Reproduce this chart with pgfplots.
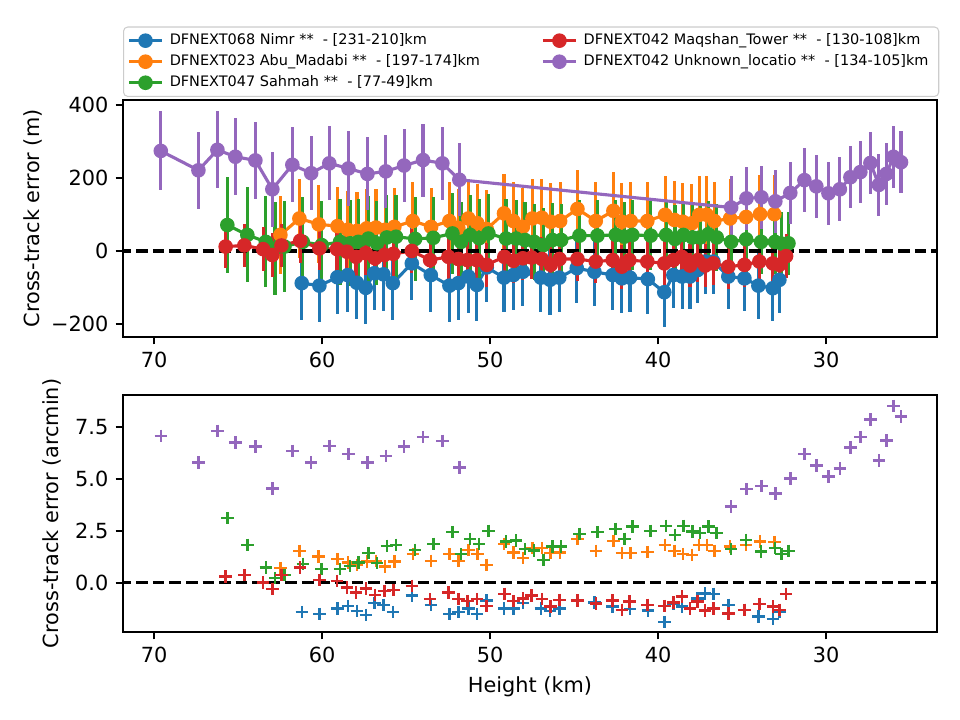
\documentclass[border=0pt]{standalone}
\usepackage{fontspec}
\setmainfont{DejaVu Sans}
\usepackage{pgfplots}
\usepackage{pgfplotstable}
\pgfplotsset{compat=1.18}
\definecolor{cB}{HTML}{1F77B4}
\definecolor{cO}{HTML}{FF7F0E}
\definecolor{cG}{HTML}{2CA02C}
\definecolor{cR}{HTML}{D62728}
\definecolor{cP}{HTML}{9467BD}

% columns: height (km), cross-track error (m), error bar (m), cross-track error (arcmin)
\pgfplotstableread{
h m e a
61.21 -88 100 -1.41
60.16 -95 100 -1.50
59.09 -72 100 -1.22
58.47 -66 100 -1.11
57.93 -87 100 -1.35
57.40 -101 100 -1.54
56.89 -61 100 -0.97
56.35 -64 100 -1.06
55.79 -88 100 -1.41
54.66 -34 100 -0.61
53.53 -66 100 -1.06
52.42 -95 100 -1.50
51.89 -88 100 -1.41
51.29 -70 100 -1.22
50.79 -93 100 -1.50
50.20 -45 95 -0.85
49.17 -73 95 -1.22
48.61 -66 95 -1.22
48.05 -57 95 -0.97
46.98 -73 95 -1.22
46.43 -79 95 -1.35
45.88 -73 95 -1.22
44.84 -47 95 -0.85
43.79 -57 95 -0.93
42.70 -66 95 -1.14
42.16 -75 95 -1.30
41.67 -73 95 -1.25
40.61 -77 95 -1.33
39.63 -113 95 -1.89
39.09 -66 90 -1.02
38.57 -70 90 -1.14
38.10 -70 90 -1.22
37.64 -52 90 -0.74
37.20 -29 90 -0.50
36.71 -29 90 -0.53
35.82 -70 90 -1.06
34.86 -75 90 -1.30
34.03 -95 90 -1.62
33.17 -102 90 -1.73
32.78 -79 90 -1.38
}\tNimr

\pgfplotstableread{
h m e a
62.48 44 107 0.71
61.35 89 107 1.54
60.20 73 107 1.27
59.08 68 107 1.15
58.47 58 107 0.98
57.92 55 107 0.87
57.34 62 107 1.03
56.79 64 107 1.06
56.25 58 107 0.79
55.70 66 107 1.03
54.60 82 107 1.38
53.51 66 107 1.06
52.42 82 107 1.38
51.89 63 107 1.06
51.29 89 107 1.59
50.76 76 107 1.38
50.20 60 107 0.87
49.17 103 107 1.88
48.61 82 107 1.46
48.05 66 107 1.19
47.48 89 107 1.67
46.92 91 107 1.67
46.39 80 107 1.43
45.83 82 107 1.46
44.80 115 107 2.10
43.71 82 107 1.54
42.66 110 107 2.02
42.16 80 107 1.43
41.63 82 107 1.43
40.64 82 107 1.48
39.58 99 107 1.83
39.03 85 107 1.54
38.53 80 107 1.39
37.99 76 107 1.35
37.55 99 107 1.83
37.10 99 107 1.83
36.65 82 107 1.54
35.71 89 107 1.75
34.76 93 107 1.83
33.93 101 107 1.99
33.08 101 107 1.96
}\tAbu

\pgfplotstableread{
h m e a
65.64 71 132 3.11
64.45 44 130 1.83
63.35 25 125 0.75
62.80 7 128 0.23
62.24 12 125 0.38
61.15 25 122 0.91
60.02 16 120 0.66
58.93 25 118 0.66
58.33 21 118 0.82
57.84 25 116 0.98
57.24 34 116 1.43
56.74 21 115 0.95
56.15 37 115 1.78
55.60 39 114 1.83
54.46 33 114 1.59
53.38 36 112 1.88
52.24 48 110 2.44
51.73 25 110 1.39
51.19 44 108 2.12
50.65 35 108 1.88
50.10 48 108 2.50
49.05 34 108 1.98
48.45 34 106 2.03
47.92 30 105 1.62
47.38 25 104 1.55
46.83 16 103 1.11
46.29 30 102 1.75
45.77 30 100 1.75
44.68 42 98 2.36
43.61 42 97 2.44
42.52 44 96 2.60
42.01 39 96 2.12
41.53 44 96 2.72
40.44 42 95 2.50
39.52 44 94 2.74
38.99 33 94 2.31
38.49 44 93 2.74
37.96 37 92 2.47
37.50 37 92 2.39
37.01 46 91 2.71
36.51 37 91 2.39
35.65 25 90 1.62
34.76 32 89 2.07
33.87 25 88 1.51
33.04 25 87 1.67
32.64 20 87 1.38
32.24 21 87 1.54
}\tSah

\pgfplotstableread{
h m e a
65.74 12 60 0.30
64.63 15 60 0.38
63.51 5 60 0.03
62.96 -11 60 -0.29
62.42 15 60 0.38
61.30 28 60 0.75
60.16 7 60 0.14
59.11 5 60 0.10
58.53 -2 60 -0.21
57.98 -16 60 -0.45
57.40 -6 60 -0.26
56.85 -20 60 -0.58
56.29 -11 60 -0.38
55.76 -8 60 -0.34
54.66 0 60 -0.14
53.57 -25 60 -0.78
52.48 -16 60 -0.45
51.89 -22 60 -0.78
51.35 -25 60 -0.87
50.79 -25 60 -0.78
50.20 -38 60 -1.11
49.15 -16 60 -0.53
48.61 -27 60 -0.87
48.05 -20 60 -0.74
47.52 -18 60 -0.61
46.92 -22 60 -0.78
46.39 -38 60 -1.14
45.87 -22 60 -0.82
44.80 -22 60 -0.85
43.71 -29 60 -0.98
42.70 -25 60 -0.85
42.16 -43 60 -1.30
41.71 -25 60 -0.90
40.64 -29 60 -1.06
39.63 -34 60 -1.11
39.09 -25 60 -0.95
38.59 -16 60 -0.66
38.10 -40 60 -1.22
37.64 -25 60 -0.90
37.20 -40 60 -1.33
36.71 -34 60 -1.22
35.82 -43 60 -1.46
34.86 -38 60 -1.30
33.97 -29 60 -1.01
33.17 -34 60 -1.14
32.78 -38 60 -1.30
32.38 -14 60 -0.53
}\tMaq

\pgfplotstableread{
h m e a
69.60 274 108 7.07
67.36 221 106 5.80
66.23 277 105 7.31
65.16 258 105 6.76
63.97 248 105 6.55
62.96 169 103 4.55
61.77 236 103 6.35
60.65 213 101 5.78
59.57 240 101 6.59
58.43 226 102 6.20
57.30 211 100 5.78
56.21 218 100 6.11
55.12 234 100 6.55
53.99 249 100 7.01
52.84 240 100 6.83
51.83 195 100 5.56
35.65 119 85 3.67
34.74 144 87 4.51
33.85 147 87 4.66
33.02 136 86 4.31
32.13 159 86 5.03
31.29 194 87 6.19
30.58 177 86 5.64
29.86 158 87 5.11
29.18 169 87 5.51
28.55 202 85 6.52
27.96 216 85 7.01
27.36 241 85 7.87
26.86 181 84 5.88
26.41 211 85 6.84
25.99 258 85 8.51
25.54 243 85 8.00
}\tUnk

\newcommand\lent[2]{\makebox[#1][l]{#2}}

\pgfplotsset{
  common/.style={
    scale only axis, width=390.7pt, height=113.8pt,
    xmin=-71.85, xmax=-23.4,
    xtick={-70,-60,-50,-40,-30}, xticklabels={70,60,50,40,30},
    axis line style={line width=0.8pt},
    every tick/.style={line width=0.8pt, black},
    tick align=outside, major tick length=3.5pt,
    xtick pos=bottom, ytick pos=left,
    tick label style={font=\fontsize{10}{12}\selectfont},
    label style={font=\fontsize{10}{12}\selectfont},
  },
  ebar/.style={/pgfplots/error bars/y dir=both, /pgfplots/error bars/y explicit,
    /pgfplots/error bars/error mark=none,
    /pgfplots/error bars/error bar style={line width=1.5pt, #1}},
  pt/.style={#1, line width=1.5pt, mark=*, mark size=3pt,
    mark options={line width=1pt, fill=#1, draw=#1}},
  cr/.style={#1, only marks, mark=+, mark size=3pt, mark options={line width=1.2pt}},
}

\begin{document}
\begin{tikzpicture}
\useasboundingbox (0,0) rectangle (460.8pt,345.6pt);
\begin{axis}[common,
  at={(59.04pt,183.84pt)}, anchor=south west,
  ymin=-235.6, ymax=413.7,
  ytick={-200,0,200,400}, yticklabels={−200,0,200,400},
  ylabel={Cross-track error (m)},
  ylabel style={yshift=-2.4pt},
  legend columns=2, legend cell align=left,
  legend image code/.code={\draw[mark repeat=2,mark phase=2,#1] plot coordinates {(0pt,0pt) (7.9pt,0pt) (15.8pt,0pt)};},
  legend style={at={(0,1)}, anchor=south west, yshift=1.44pt,
    font=\fontsize{6.94}{8.3}\selectfont, draw=black!20, line width=0.5pt, rounded corners=2pt,
    inner xsep=1.9pt, inner ysep=1.5pt, row sep=0pt,
    nodes={inner xsep=0pt, inner ysep=0pt, text height=6.95pt, text depth=3.15pt},
    /tikz/every odd column/.append style={column sep=3pt},
    /tikz/every even column/.append style={column sep=13.4pt}},
]
\addplot[pt=cB, ebar=cB, forget plot] table[x expr=-\thisrow{h}, y=m, y error=e] {\tNimr};
\addplot[pt=cO, ebar=cO, forget plot] table[x expr=-\thisrow{h}, y=m, y error=e] {\tAbu};
\addplot[pt=cG, ebar=cG, forget plot] table[x expr=-\thisrow{h}, y=m, y error=e] {\tSah};
\addplot[pt=cR, ebar=cR, forget plot] table[x expr=-\thisrow{h}, y=m, y error=e] {\tMaq};
\addplot[pt=cP, ebar=cP, forget plot] table[x expr=-\thisrow{h}, y=m, y error=e] {\tUnk};
\addplot[black, line width=1.5pt, dash pattern=on 5.55pt off 2.4pt, forget plot] coordinates {(-75,0) (-20,0)};
\addlegendimage{pt=cB}
\addlegendentry{\lent{165pt}{DFNEXT068 Nimr ** \ - [231-210]km}}
\addlegendimage{pt=cR}
\addlegendentry{\lent{168.5pt}{DFNEXT042 Maqshan\_Tower ** \ - [130-108]km}}
\addlegendimage{pt=cO}
\addlegendentry{\lent{165pt}{DFNEXT023 Abu\_Madabi ** \ - [197-174]km}}
\addlegendimage{pt=cP}
\addlegendentry{\lent{168.5pt}{DFNEXT042 Unknown\_locatio ** \ - [134-105]km}}
\addlegendimage{pt=cG}
\addlegendentry{\lent{165pt}{DFNEXT047 Sahmah ** \ - [77-49]km}}
\end{axis}

\begin{axis}[common,
  at={(59.04pt,42.24pt)}, anchor=south west,
  ymin=-2.36, ymax=9.04,
  ytick={0,2.5,5,7.5}, yticklabels={0.0,2.5,5.0,7.5},
  ylabel={Cross-track error (arcmin)},
  xlabel={Height (km)},
]
\addplot[cr=cB] table[x expr=-\thisrow{h}, y=a] {\tNimr};
\addplot[cr=cO] table[x expr=-\thisrow{h}, y=a] {\tAbu};
\addplot[cr=cG] table[x expr=-\thisrow{h}, y=a] {\tSah};
\addplot[cr=cR] table[x expr=-\thisrow{h}, y=a] {\tMaq};
\addplot[cr=cP] table[x expr=-\thisrow{h}, y=a] {\tUnk};
\addplot[black, line width=1.5pt, dash pattern=on 5.55pt off 2.4pt] coordinates {(-75,0) (-20,0)};
\end{axis}
\end{tikzpicture}
\end{document}
